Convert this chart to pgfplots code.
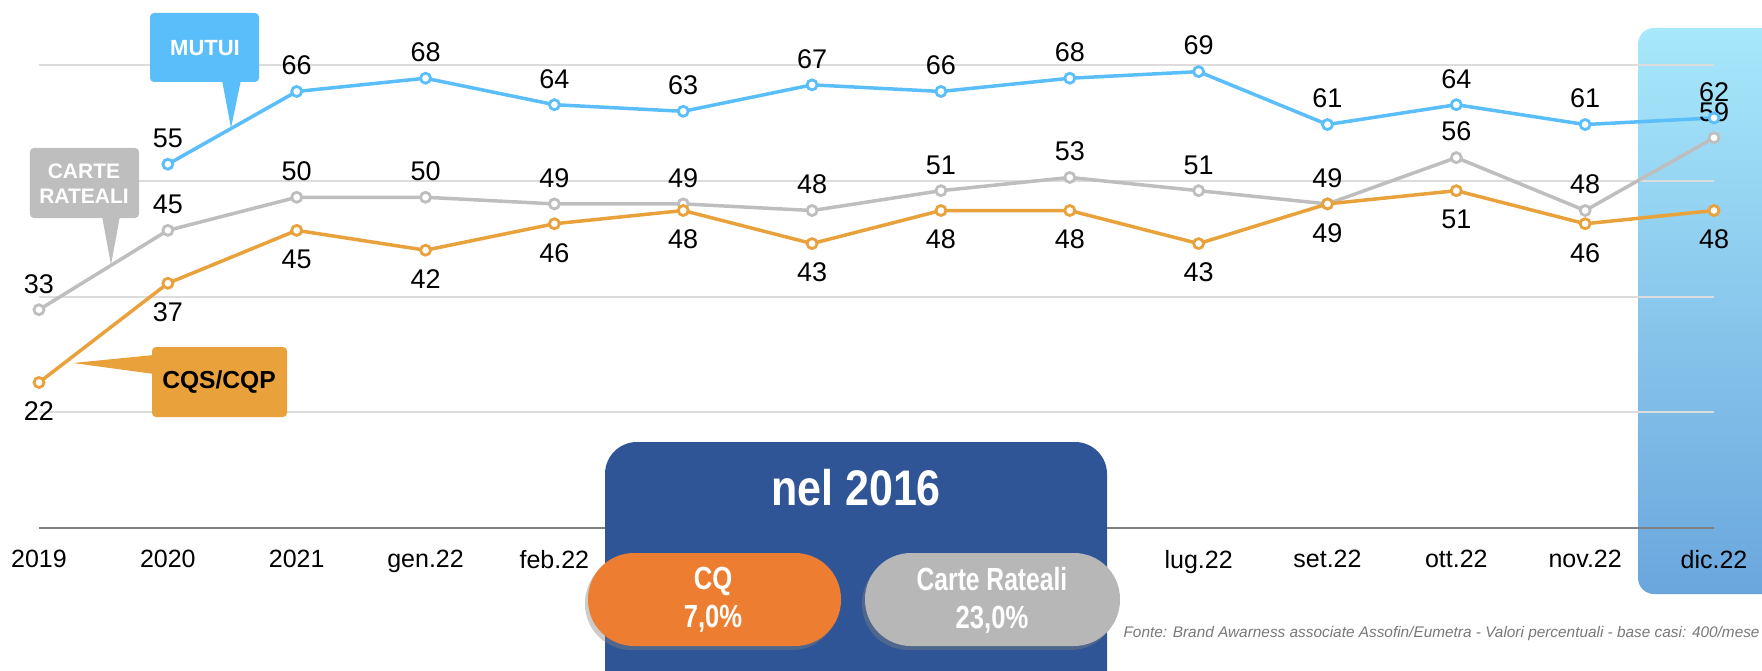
\documentclass[border=0pt]{standalone}
\usepackage{fontspec}
\setmainfont{Liberation Sans}
\usepackage{pgfplots}
\pgfplotsset{compat=1.18}
\usetikzlibrary{shadows}

\definecolor{mutui}{RGB}{90,190,250}
\definecolor{carte}{RGB}{190,190,190}
\definecolor{cqs}{RGB}{233,162,59}
\definecolor{cqpill}{RGB}{237,125,49}
\definecolor{crpill}{RGB}{183,183,183}
\definecolor{navy}{RGB}{47,85,151}
\definecolor{dictop}{RGB}{168,232,251}
\definecolor{dicbot}{RGB}{106,166,221}
\definecolor{gridgray}{RGB}{220,220,220}
\definecolor{fonte}{RGB}{120,120,120}

\begin{document}
\begin{tikzpicture}
% riquadro della figura: 1762x670 px, 1 px = 0.5pt, origine del grafico in (39,528)
\useasboundingbox (-19.5pt,-71pt) rectangle (861.5pt,264pt);

% fondo: riquadro dic.22 (coordinate in pixel dell'immagine)
\begin{scope}[x=0.5pt,y=-0.5pt,shift={(-19.5pt,264pt)}]
  \shade[top color=dictop,bottom color=dicbot,rounded corners=8pt] (1638,28) rectangle (1800,594);
\end{scope}

\begin{axis}[
    at={(0,0)}, anchor=south west,
    scale only axis, width=837.5pt, height=231.5pt,
    xmin=0, xmax=13, ymin=0, ymax=70,
    axis line style={draw=none},
    tick style={draw=none},
    ytick={17.5,35,52.5,70}, yticklabels={},
    ymajorgrids, grid style={gridgray,line width=1pt},
    xtick={0,...,13},
    % le etichette da mar.22 a giu.22 sono coperte dal riquadro "nel 2016"
    xticklabels={2019,2020,2021,gen.22,feb.22,,,,,lug.22,set.22,ott.22,nov.22,dic.22},
    xticklabel style={anchor=north,inner sep=0pt,yshift=-11pt,font=\fontsize{12.5}{15}\selectfont},
    clip=false,
    /pgf/number format/assume math mode=true,
    point meta=y,
    every axis plot/.append style={line width=1.75pt, mark=*, mark size=2.5pt,
        mark options={fill=white,line width=1.4pt}},
    nodes near coords,
    every node near coord/.append style={black,inner sep=0pt,font=\fontsize{13.5}{16}\selectfont},
]
\draw[gray,line width=1pt] (axis cs:0,0) -- (axis cs:13,0);

% Carte rateali
\addplot[carte, every node near coord/.append style={anchor=south,yshift=7.5pt}] coordinates {
    (0,33) (1,45) (2,50) (3,50) (4,49) (5,49) (6,48)
    (7,51) (8,53) (9,51) (10,49) (11,56) (12,48) (13,59)
};
% CQS/CQP
\addplot[cqs, every node near coord/.append style={anchor=north,yshift=-9pt}] coordinates {
    (0,22) (1,37) (2,45) (3,42) (4,46) (5,48) (6,43)
    (7,48) (8,48) (9,43) (10,49) (11,51) (12,46) (13,48)
};
% Mutui
\addplot[mutui, every node near coord/.append style={anchor=south,yshift=7.5pt}] coordinates {
    (1,55) (2,66) (3,68) (4,64) (5,63) (6,67)
    (7,66) (8,68) (9,69) (10,61) (11,64) (12,61) (13,62)
};
\end{axis}

\begin{scope}[x=0.5pt,y=-0.5pt,shift={(-19.5pt,264pt)}]
  % etichette delle serie
  \fill[mutui,rounded corners=2pt] (150,13) rectangle (259,82);
  \fill[mutui] (222,80) -- (231,128) -- (241,80) -- cycle;
  \node[white,font=\bfseries\fontsize{11}{13}\selectfont] at (205,48) {MUTUI};

  \fill[carte,rounded corners=2pt] (30,148) rectangle (139,218);
  \fill[carte] (102,216) -- (111,265) -- (120,216) -- cycle;
  \node[white,align=center,font=\bfseries\fontsize{10.5}{12.5}\selectfont] at (84,184) {CARTE\\RATEALI};

  \fill[cqs,rounded corners=2pt] (152,347) rectangle (287,417);
  \fill[cqs] (73,363) -- (154,355) -- (154,374) -- cycle;
  \node[black,font=\bfseries\fontsize{12.3}{14}\selectfont] at (219,382) {CQS/CQP};

  % riquadro nel 2016
  \fill[navy,rounded corners=16pt] (605,442) rectangle (1107,720);
  \node[white,font=\bfseries\fontsize{25}{30}\selectfont] at (856,488) {\scalebox{0.86}[1]{nel 2016}};

  \fill[cqpill,rounded corners=23pt,drop shadow={shadow xshift=-1.5pt,shadow yshift=-2pt,opacity=0.4}] (588,553) rectangle (841,646);
  \node[white,align=center,font=\bfseries\fontsize{16}{19}\selectfont] at (713,600) {\scalebox{0.8}[1]{CQ}\\\scalebox{0.8}[1]{7,0\%}};

  \fill[crpill,rounded corners=23pt,drop shadow={shadow xshift=-1.5pt,shadow yshift=-2pt,opacity=0.4}] (865,553) rectangle (1120,646);
  \node[white,align=center,font=\bfseries\fontsize{16}{19}\selectfont] at (992,600) {\scalebox{0.77}[1]{Carte Rateali}\\\scalebox{0.8}[1]{23,0\%}};

  % fonte
  \node[fonte,anchor=east,inner sep=0pt] at (1760,634) {\resizebox{318pt}{!}{\itshape\fontsize{8}{10}\selectfont Fonte: Brand Awarness associate Assofin/Eumetra - Valori percentuali - base casi: 400/mese}};
\end{scope}
\end{tikzpicture}
\end{document}
